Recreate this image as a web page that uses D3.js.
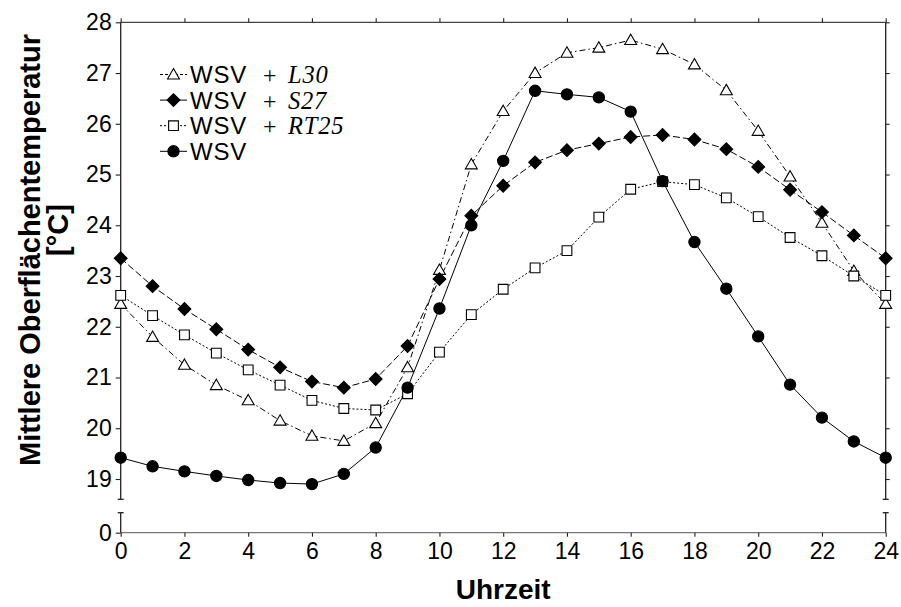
<!DOCTYPE html>
<html>
<head>
<meta charset="utf-8">
<script src="https://cdn.jsdelivr.net/npm/d3@7"></script>
<style>
  html, body { margin: 0; padding: 0; background: #fff; }
  svg { display: block; }
</style>
</head>
<body>
<svg id="chart" width="901" height="607"></svg>
<script>
// Hourly mean surface temperature (°C) for the four wall variants
const hours = [0,1,2,3,4,5,6,7,8,9,10,11,12,13,14,15,16,17,18,19,20,21,22,23,24];
const seriesL30  = [22.45,21.8,21.25,20.85,20.55,20.15,19.85,19.75,20.1,21.2,23.12,25.2,26.25,27.0,27.4,27.5,27.65,27.47,27.17,26.66,25.86,24.96,24.05,23.1,22.45];
const seriesS27  = [23.35,22.8,22.35,21.95,21.55,21.2,20.92,20.8,20.97,21.62,22.94,24.19,24.78,25.24,25.48,25.61,25.74,25.78,25.69,25.5,25.15,24.7,24.26,23.8,23.35];
const seriesRT25 = [22.62,22.22,21.84,21.48,21.15,20.85,20.55,20.39,20.36,20.68,21.5,22.24,22.74,23.16,23.5,24.16,24.71,24.86,24.8,24.54,24.17,23.76,23.4,23.0,22.62];
const seriesWSV  = [19.42,19.25,19.15,19.06,18.98,18.92,18.9,19.1,19.62,20.8,22.36,24.0,25.27,26.65,26.58,26.52,26.24,24.87,23.67,22.75,21.81,20.86,20.21,19.74,19.42];

const xTicks = [0,2,4,6,8,10,12,14,16,18,20,22,24];
const yTicks = [19,20,21,22,23,24,25,26,27,28];
const yLowTicks = [0];

const legendNames = ["L30", "S27", "RT25", ""];
const xTitle = "Uhrzeit";
const yTitle1 = "Mittlere Oberflächentemperatur";
const yTitle2 = "[°C]";

const svg = d3.select("#chart");

const plotLeft = 120.7, plotRight = 885.7, plotTop = 22.3;
const upperBottom = 499.3, lowerTop = 512.7, lowerBottom = 532.7;

const x = d3.scaleLinear().domain([0, 24]).range([plotLeft, plotRight]);
const y = d3.scaleLinear().domain([18.6, 28]).range([upperBottom, plotTop]);
const yLow = d3.scaleLinear().domain([0, 0.4]).range([lowerBottom, lowerTop]);

const fontSans = "Liberation Sans, Arial, sans-serif";
const fontSerif = "Liberation Serif, Times New Roman, serif";
const axisColor = "#222";

// frame lines
const frame = svg.append("g").attr("stroke-width", 1.3).attr("fill", "none");
frame.append("line").attr("x1", plotLeft).attr("x2", plotRight).attr("y1", plotTop).attr("y2", plotTop).attr("stroke", "#444");
frame.append("line").attr("x1", plotLeft).attr("x2", plotRight).attr("y1", lowerBottom).attr("y2", lowerBottom).attr("stroke", "#777");
// left and right broken axes
[plotLeft, plotRight].forEach(px => {
  frame.append("line").attr("x1", px).attr("x2", px).attr("y1", plotTop).attr("y2", upperBottom).attr("stroke", axisColor);
  frame.append("line").attr("x1", px).attr("x2", px).attr("y1", lowerTop).attr("y2", lowerBottom).attr("stroke", axisColor);
  frame.append("line").attr("x1", px - 3).attr("x2", px + 3).attr("y1", upperBottom).attr("y2", upperBottom).attr("stroke", axisColor);
  frame.append("line").attr("x1", px - 3).attr("x2", px + 3).attr("y1", lowerTop).attr("y2", lowerTop).attr("stroke", axisColor);
});

// axes built with d3 axis generators
function styleAxis(g, showLabels) {
  g.select(".domain").remove();
  g.selectAll(".tick line").attr("stroke", axisColor).attr("stroke-width", 1.1);
  g.selectAll(".tick text")
    .attr("font-family", fontSans).attr("font-size", 23).attr("fill", "#000");
  if (!showLabels) g.selectAll(".tick text").remove();
}

svg.append("g").attr("transform", `translate(0,${lowerBottom})`)
  .call(d3.axisBottom(x).tickValues(xTicks).tickSize(4).tickPadding(6).tickFormat(d3.format("d")))
  .call(g => styleAxis(g, true));

svg.append("g").attr("transform", `translate(0,${plotTop})`)
  .call(d3.axisTop(x).tickValues(xTicks).tickSize(4))
  .call(g => styleAxis(g, false));

svg.append("g").attr("transform", `translate(${plotLeft},0)`)
  .call(d3.axisLeft(y).tickValues(yTicks).tickSize(5).tickPadding(4).tickFormat(d3.format("d")))
  .call(g => styleAxis(g, true));

svg.append("g").attr("transform", `translate(${plotLeft},0)`)
  .call(d3.axisLeft(yLow).tickValues(yLowTicks).tickSize(5).tickPadding(4).tickFormat(d3.format("d")))
  .call(g => styleAxis(g, true));

svg.append("g").attr("transform", `translate(${plotRight},0)`)
  .call(d3.axisRight(y).tickValues(yTicks).tickSize(4))
  .call(g => styleAxis(g, false));

// series definitions
const series = [
  { values: seriesL30,  dash: "6,3,1.5,3", legendDash: "3,2", marker: "triangle", fill: "#fff" },
  { values: seriesS27,  dash: "7,3",       legendDash: null,  marker: "diamond",  fill: "#000" },
  { values: seriesRT25, dash: "2,2",       legendDash: "2,2", marker: "square",   fill: "#fff" },
  { values: seriesWSV,  dash: null,        legendDash: null,  marker: "circle",   fill: "#000" }
];

const symbolTypes = {
  triangle: d3.symbolTriangle,
  diamond: d3.symbolSquare,
  square: d3.symbolSquare,
  circle: d3.symbolCircle
};
const symbolSizes = { triangle: 62, diamond: 82, square: 95, circle: 100 };

function drawMarker(g, kind, fill, cx, cy) {
  const sym = d3.symbol().type(symbolTypes[kind]).size(symbolSizes[kind]);
  return g.append("path")
    .attr("d", sym())
    .attr("transform", kind === "triangle" ? `translate(${cx},${cy + 1})` :
                       kind === "diamond" ? `translate(${cx},${cy}) rotate(45)` :
                       `translate(${cx},${cy})`)
    .attr("fill", fill)
    .attr("stroke", "#000")
    .attr("stroke-width", 1.1);
}

const line = d3.line().x((d, i) => x(hours[i])).y(d => y(d));

const plot = svg.append("g");
series.forEach(s => {
  plot.append("path")
    .datum(s.values)
    .attr("d", line)
    .attr("fill", "none")
    .attr("stroke", "#000")
    .attr("stroke-width", 1)
    .attr("stroke-dasharray", s.dash);
});
series.forEach(s => {
  const g = plot.append("g");
  s.values.forEach((v, i) => drawMarker(g, s.marker, s.fill, x(hours[i]), y(v)));
});

// legend: sample line with marker, then "WSV + name" in one text line
const legend = svg.append("g");
const legendX = 160, legendY0 = 74.5, legendStep = 25.6;
series.forEach((s, i) => {
  const ly = legendY0 + i * legendStep;
  legend.append("line")
    .attr("x1", legendX).attr("x2", legendX + 27)
    .attr("y1", ly).attr("y2", ly)
    .attr("stroke", "#000").attr("stroke-width", 1)
    .attr("stroke-dasharray", s.legendDash);
  drawMarker(legend, s.marker, s.fill, legendX + 13.5, ly);
  const t = legend.append("text")
    .attr("x", legendX + 30).attr("y", ly + 8.5)
    .attr("fill", "#000");
  t.append("tspan")
    .attr("font-family", fontSans).attr("font-size", 24).attr("letter-spacing", 0.8)
    .text("WSV");
  if (legendNames[i]) {
    t.append("tspan")
      .attr("x", legendX + 103)
      .attr("font-family", fontSerif).attr("font-size", 24)
      .text("+");
    t.append("tspan")
      .attr("x", legendX + 128)
      .attr("font-family", fontSerif).attr("font-style", "italic").attr("font-size", 24.5)
      .attr("letter-spacing", 0.8)
      .text(legendNames[i]);
  }
});

// axis titles
svg.append("text")
  .attr("x", (plotLeft + plotRight) / 2).attr("y", 599)
  .attr("text-anchor", "middle")
  .attr("font-family", fontSans).attr("font-weight", "bold").attr("font-size", 28)
  .text(xTitle);

svg.append("text")
  .attr("transform", "translate(40,250) rotate(-90)")
  .attr("text-anchor", "middle")
  .attr("font-family", fontSans).attr("font-weight", "bold").attr("font-size", 29)
  .text(yTitle1);

svg.append("text")
  .attr("transform", "translate(68,230) rotate(-90)")
  .attr("text-anchor", "middle")
  .attr("font-family", fontSans).attr("font-weight", "bold").attr("font-size", 29)
  .text(yTitle2);
</script>
</body>
</html>
